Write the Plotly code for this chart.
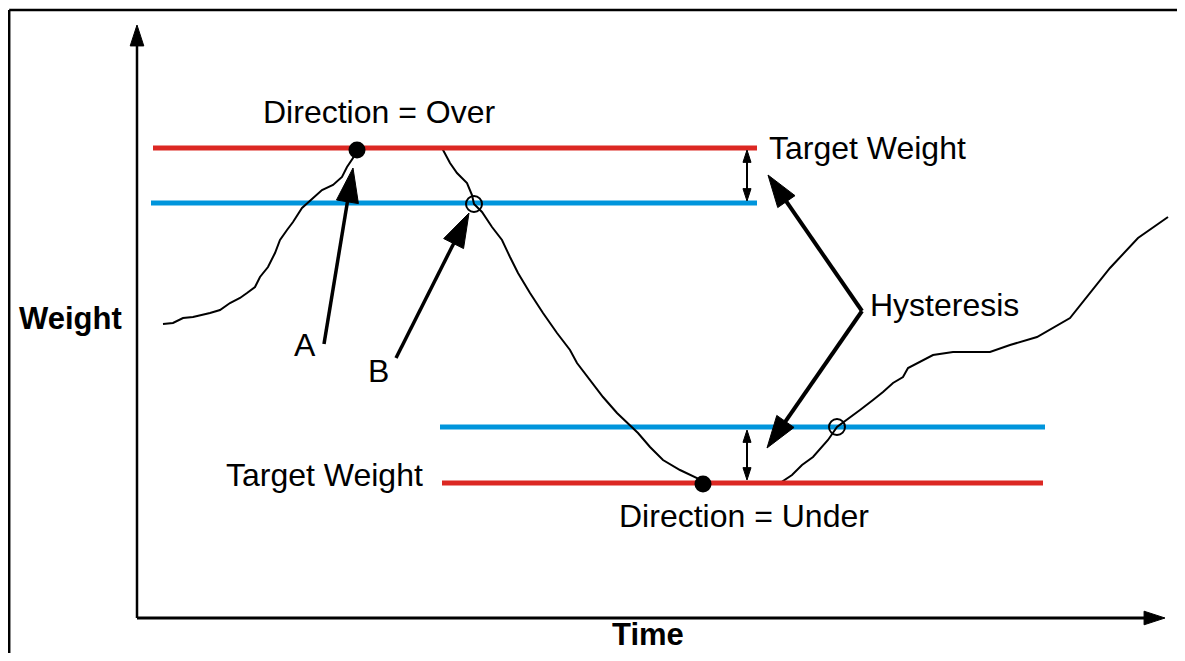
import plotly.graph_objects as go

# weight signal (time / weight in diagram units, origin at the axes corner)
curve_time = [26, 36, 46, 56, 73, 83, 93, 103, 110, 118, 123, 131, 138, 143, 150, 156, 165, 176, 185, 196, 205, 210, 216, 220,
              305, 313, 320, 330, 335, 337, 345, 355, 365, 373, 381, 393, 406, 420, 433, 440, 453, 466, 480, 493, 501, 513, 526,
              543, 560, 566,
              643, 655, 665, 676, 691, 700, 710, 723, 736, 746, 756, 766, 771, 783, 796, 816, 853, 873, 900, 933, 953, 973,
              1001, 1031]
curve_weight = [294, 295, 300, 301, 305, 308, 315, 320, 325, 331, 341, 351, 365, 378, 388, 396, 410, 420, 428, 433, 441, 451,
                460, 470,
                470, 455, 445, 435, 423, 414, 406, 391, 378, 361, 345, 325, 305, 285, 268, 255, 238, 221, 205, 193, 185, 171,
                158, 148, 140, 135,
                135, 143, 153, 161, 178, 191, 198, 208, 218, 226, 235, 241, 250, 256, 263, 266, 266, 273, 281, 300, 325, 350,
                380, 401]

# target (red) and release (blue) levels
target_over = 470
release_over = 415
release_under = 191
target_under = 135
upper_red_span = [16, 620]
upper_blue_span = [14, 620]
lower_red_span = [305, 906]
lower_blue_span = [303, 908]

# direction change points (filled) and release points (open)
switch_time = [220, 566]
switch_weight = [468, 134]
release_time = [337, 700]
release_weight = [414, 191]

# pointer arrows: tail time, tail weight, tip time, tip weight
arrow_a = [187, 274, 216, 450]
arrow_b = [259, 260, 332, 405]
hyst_up = [725, 307, 631, 443]
hyst_down = [725, 307, 630, 170]
gap_time = 610
gap_upper = [443, 468, 417]
gap_lower = [163, 188, 138]
axis_time_end = 1028
axis_weight_end = 593

FONT = "Liberation Sans, Arial, sans-serif"
RED = "#dc2823"
BLUE = "#0095dc"

# page body keeps an 8px margin, so the figure is 16px smaller than the window
W, H = 1169, 645

fig = go.Figure()


def arrow(t0, w0, t1, w1, width, head):
    fig.add_trace(go.Scatter(
        x=[t0, t1], y=[w0, w1], mode="lines+markers",
        line=dict(color="black", width=width),
        marker=dict(symbol="arrow", size=[0, head], angleref="previous", color="black", opacity=1,
                    line=dict(width=1, color="black")),
        hoverinfo="skip"))


# axes with arrow tips
arrow(0, 0, 0, axis_weight_end, 2.5, 22)
arrow(0, 0, axis_time_end, 0, 3, 22)

# release levels
fig.add_trace(go.Scatter(
    x=upper_blue_span + [None] + lower_blue_span,
    y=[release_over] * 2 + [None] + [release_under] * 2,
    mode="lines", line=dict(color=BLUE, width=5), hoverinfo="skip"))

# weight signal
fig.add_trace(go.Scatter(x=curve_time, y=curve_weight, mode="lines",
                         line=dict(color="black", width=2), hoverinfo="skip"))

# target levels
fig.add_trace(go.Scatter(
    x=upper_red_span + [None] + lower_red_span,
    y=[target_over] * 2 + [None] + [target_under] * 2,
    mode="lines", line=dict(color=RED, width=5), hoverinfo="skip"))

fig.add_trace(go.Scatter(x=switch_time, y=switch_weight, mode="markers",
                         marker=dict(color="black", size=17), hoverinfo="skip"))
fig.add_trace(go.Scatter(x=release_time, y=release_weight, mode="markers",
                         marker=dict(symbol="circle-open", color="black", size=16, line=dict(width=2)),
                         hoverinfo="skip"))

# pointers
arrow(*arrow_a, 3.5, 36)
arrow(*arrow_b, 3.5, 36)
arrow(*hyst_up, 4, 34)
arrow(*hyst_down, 4, 34)

# hysteresis gap markers (double headed)
for gap in (gap_upper, gap_lower):
    arrow(gap_time, gap[0], gap_time, gap[1], 2, 13)
    arrow(gap_time, gap[0], gap_time, gap[2], 2, 13)

labels = [
    ("Direction = Over", 242, 506, "center", 32),
    ("Target Weight", 630, 470, "left", 32),
    ("Target Weight", 288, 143, "right", 32),
    ("Direction = Under", 480, 102, "left", 32),
    ("Hysteresis", 731, 313, "left", 32),
    ("A", 168, 273, "center", 32),
    ("B", 241, 247, "center", 32),
    ("<b>Weight</b>", -67, 300, "center", 31),
    ("<b>Time</b>", 511, -16, "center", 31),
]
for text, t, w, anchor, size in labels:
    fig.add_annotation(x=t, y=w, text=text, showarrow=False, xanchor=anchor, yanchor="middle",
                       font=dict(family=FONT, size=size, color="black"))

# frame around the figure (left and top edges)
fig.add_shape(type="line", xref="paper", yref="paper", x0=1.2 / W, x1=1.2 / W, y0=0, y1=1 - 2 / H,
              line=dict(color="black", width=2.5))
fig.add_shape(type="line", xref="paper", yref="paper", x0=1.2 / W, x1=1, y0=1 - 2 / H, y1=1 - 2 / H,
              line=dict(color="black", width=2.5))

fig.update_layout(
    width=W, height=H, margin=dict(l=0, r=0, t=0, b=0),
    showlegend=False, plot_bgcolor="white", paper_bgcolor="white",
    xaxis=dict(visible=False, range=[-129, 1040], fixedrange=True),
    yaxis=dict(visible=False, range=[-35, 610], fixedrange=True),
)

fig.write_html("out.html")
